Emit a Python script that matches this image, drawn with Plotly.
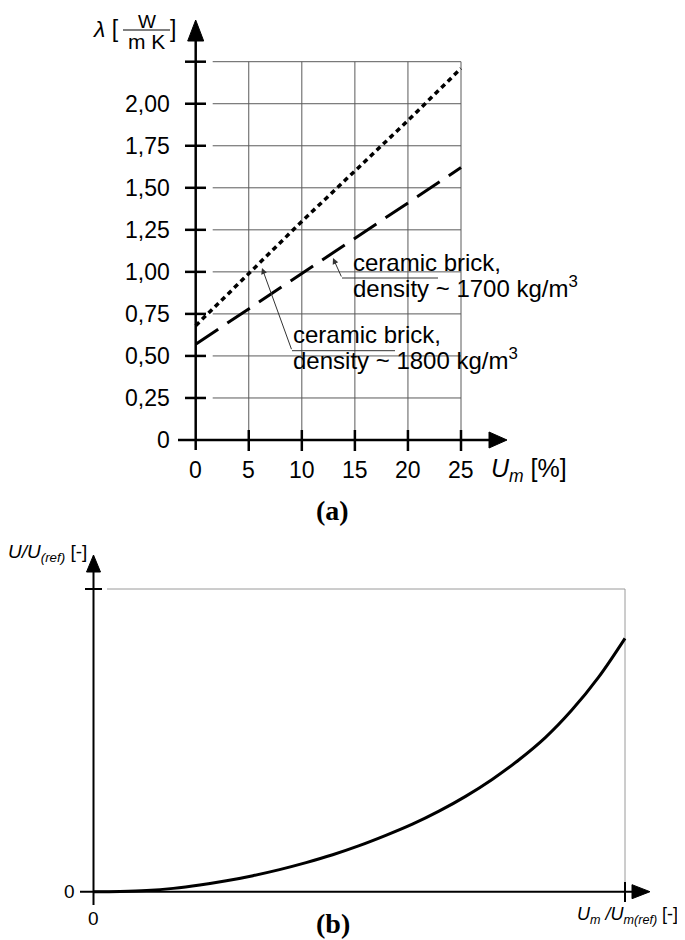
import plotly.graph_objects as go

# ─── Data ────────────────────────────────────────────────────────────────────

um_pct = [0, 5, 10, 15, 20, 25]
lam_1800 = [0.68, 0.99, 1.30, 1.60, 1.90, 2.21]   # dotted, ~1800 kg/m3
lam_1700 = [0.57, 0.78, 0.99, 1.20, 1.41, 1.62]   # dashed, ~1700 kg/m3

lam_ticks = [0, 0.25, 0.5, 0.75, 1.0, 1.25, 1.5, 1.75, 2.0]
lam_tick_text = ["0", "0,25", "0,50", "0,75", "1,00", "1,25", "1,50", "1,75", "2,00"]
um_ticks = [0, 5, 10, 15, 20, 25]

u_rel_x = [0, 0.05, 0.1, 0.15, 0.2, 0.25, 0.3, 0.35, 0.4, 0.45, 0.5,
           0.55, 0.6, 0.65, 0.7, 0.75, 0.8, 0.85, 0.9, 0.95, 1.0]
u_rel_y = [0, 0.001, 0.004, 0.011, 0.022, 0.036, 0.053, 0.073, 0.096, 0.122, 0.152,
           0.186, 0.223, 0.266, 0.315, 0.371, 0.435, 0.509, 0.600, 0.708, 0.837]

# ─── Layout helpers ──────────────────────────────────────────────────────────

OFF = 8                      # page body margin, the figure starts at (8, 8)
W, H = 685 - OFF, 940 - OFF
FONT = "Liberation Sans, Arial, sans-serif"
SERIF = "Liberation Serif, Times New Roman, serif"
GRID = "#5a5a5a"
FRAME = "#9a9a9a"

# panel (a): window pixels of U_m = 0 / 25 and lambda = 0 / 2.25
AX0, AX1 = 195.7, 461.0
AY0, AY1 = 440.0, 61.7


def ax_(px):
    return (px - AX0) * 25 / (AX1 - AX0)


def ay_(py):
    return (AY0 - py) * 2.25 / (AY0 - AY1)


# panel (b): window pixels of 0 / 1 on both axes
BX0, BX1 = 93.5, 625.0
BY0, BY1 = 891.7, 589.0


def bx_(px):
    return (px - BX0) / (BX1 - BX0)


def by_(py):
    return (BY0 - py) / (BY0 - BY1)


def px_(x):
    return (x - OFF) / W


def py_(y):
    return 1 - (y - OFF) / H


shapes = []
annots = []


def seg(xr, yr, x0, y0, x1, y1, color="black", width=2.5, layer="above"):
    shapes.append(dict(type="line", xref=xr, yref=yr, x0=x0, y0=y0, x1=x1, y1=y1,
                       line=dict(color=color, width=width), layer=layer))


def tri(xr, yr, pts):
    path = "M " + " L ".join(f"{x},{y}" for x, y in pts) + " Z"
    shapes.append(dict(type="path", xref=xr, yref=yr, path=path,
                       fillcolor="black", line=dict(color="black", width=1)))


def txt(xr, yr, x, y, text, size=22, xanchor="center", family=FONT):
    annots.append(dict(xref=xr, yref=yr, x=x, y=y, text=text, showarrow=False,
                       xanchor=xanchor, yanchor="middle",
                       font=dict(family=family, size=size, color="black")))


# ─── Panel (a) ───────────────────────────────────────────────────────────────

# grid
for v in um_ticks[1:]:
    seg("x", "y", v, ay_(430), v, 2.25, GRID, 1, "below")
for v in lam_ticks[1:] + [2.25]:
    seg("x", "y", ax_(212.7), v, 25, v, GRID, 1, "below")

# axes with arrows
seg("x", "y", 0, ay_(450), 0, ay_(38))
tri("x", "y", [(0, ay_(20)), (ax_(AX0 - 8), ay_(41)), (ax_(AX0 + 8), ay_(41))])
seg("x", "y", ax_(178), 0, ax_(492), 0)
tri("x", "y", [(ax_(507), 0), (ax_(489), ay_(AY0 - 8)), (ax_(489), ay_(AY0 + 8))])

# ticks crossing the axes
for v in lam_ticks[1:] + [2.25]:
    seg("x", "y", ax_(185), v, ax_(206), v)
for v in um_ticks[1:]:
    seg("x", "y", v, ay_(451), v, ay_(430))

for v, t in zip(lam_ticks, lam_tick_text):
    txt("paper", "y", px_(172), v, t, 23, "right")
for v in um_ticks:
    txt("x", "paper", v, py_(470), str(v), 23)

txt("paper", "paper", px_(489), py_(470), "<i>U<sub>m</sub></i> [%]", 25, "left")

# lambda [W / (m K)]
txt("paper", "paper", px_(121), py_(29), "<i>λ</i> [", 23, "right")
txt("paper", "paper", px_(147), py_(21), "W", 19)
seg("paper", "paper", px_(123), py_(30), px_(170), py_(30), "#555", 1.5)
txt("paper", "paper", px_(146), py_(42), "m K", 21)
txt("paper", "paper", px_(168), py_(29), "]", 23, "left")

txt("paper", "paper", px_(332), py_(510), "<b>(a)</b>", 28, family=SERIF)

# callouts
txt("paper", "paper", px_(351), py_(262), "ceramic brick,", 24, "left")
txt("paper", "paper", px_(351), py_(287), "density ~ 1700 kg/m<sup>3</sup>", 24, "left")
txt("paper", "paper", px_(291), py_(334), "ceramic brick,", 24, "left")
txt("paper", "paper", px_(291), py_(359), "density ~ 1800 kg/m<sup>3</sup>", 24, "left")

for head, tail, end in [((333, 258), (342, 278), 438), ((262, 268), (292, 350.7), 395)]:
    annots.append(dict(xref="x", yref="y", axref="x", ayref="y",
                       x=ax_(head[0]), y=ay_(head[1]), ax=ax_(tail[0]), ay=ay_(tail[1]),
                       text="", showarrow=True, arrowhead=2, arrowsize=1.2,
                       arrowwidth=1, arrowcolor="#333", standoff=0))
    seg("x", "y", ax_(tail[0]), ay_(tail[1]), ax_(end), ay_(tail[1]), "#333", 1)

# ─── Panel (b) ───────────────────────────────────────────────────────────────

seg("x2", "y2", bx_(107), 1, 1, 1, FRAME, 1, "below")
seg("x2", "y2", 1, 0, 1, 1, FRAME, 1, "below")

seg("x2", "y2", 0, by_(905), 0, by_(570), "black", 2)
tri("x2", "y2", [(0, by_(555)), (bx_(BX0 - 7), by_(572)), (bx_(BX0 + 7), by_(572))])
seg("x2", "y2", bx_(80), 0, bx_(634), 0, "black", 2)
tri("x2", "y2", [(bx_(650), 0), (bx_(632), by_(BY0 - 7)), (bx_(632), by_(BY0 + 7))])

seg("x2", "y2", bx_(85), 1, bx_(102), 1, "black", 2)
seg("x2", "y2", 1, by_(902), 1, by_(882), "black", 2)

txt("paper", "y2", px_(69), 0, "0", 19)
txt("x2", "paper", 0, py_(918), "0", 19)
txt("paper", "paper", px_(89), py_(553), "<i>U/U<sub>(ref)</sub></i> [-]", 19, "right")
txt("paper", "paper", px_(680), py_(915),
    "<i>U<sub>m</sub> /U<sub>m(ref)</sub></i> [-]", 18, "right")
txt("paper", "paper", px_(333), py_(923), "<b>(b)</b>", 28, family=SERIF)

# ─── Figure ──────────────────────────────────────────────────────────────────

fig = go.Figure()
fig.add_trace(go.Scatter(x=um_pct, y=lam_1800, mode="lines", xaxis="x", yaxis="y",
                         line=dict(color="black", width=3.5, dash="5px,4px")))
fig.add_trace(go.Scatter(x=um_pct, y=lam_1700, mode="lines", xaxis="x", yaxis="y",
                         line=dict(color="black", width=3, dash="27px,11px")))
fig.add_trace(go.Scatter(x=u_rel_x, y=u_rel_y, mode="lines", xaxis="x2", yaxis="y2",
                         line=dict(color="black", width=3, shape="spline", smoothing=1)))

fig.update_layout(
    width=W,
    height=H,
    margin=dict(l=0, r=0, t=0, b=0),
    paper_bgcolor="white",
    plot_bgcolor="rgba(0,0,0,0)",
    showlegend=False,
    xaxis=dict(domain=[px_(170), px_(515)], range=[ax_(170), ax_(515)], anchor="y",
               visible=False, fixedrange=True),
    yaxis=dict(domain=[py_(458), py_(12)], range=[ay_(458), ay_(12)], anchor="x",
               visible=False, fixedrange=True),
    xaxis2=dict(domain=[px_(75), px_(665)], range=[bx_(75), bx_(665)], anchor="y2",
                visible=False, fixedrange=True),
    yaxis2=dict(domain=[py_(910), py_(548)], range=[by_(910), by_(548)], anchor="x2",
                visible=False, fixedrange=True),
    shapes=shapes,
    annotations=annots,
)

fig.write_html("out.html")
